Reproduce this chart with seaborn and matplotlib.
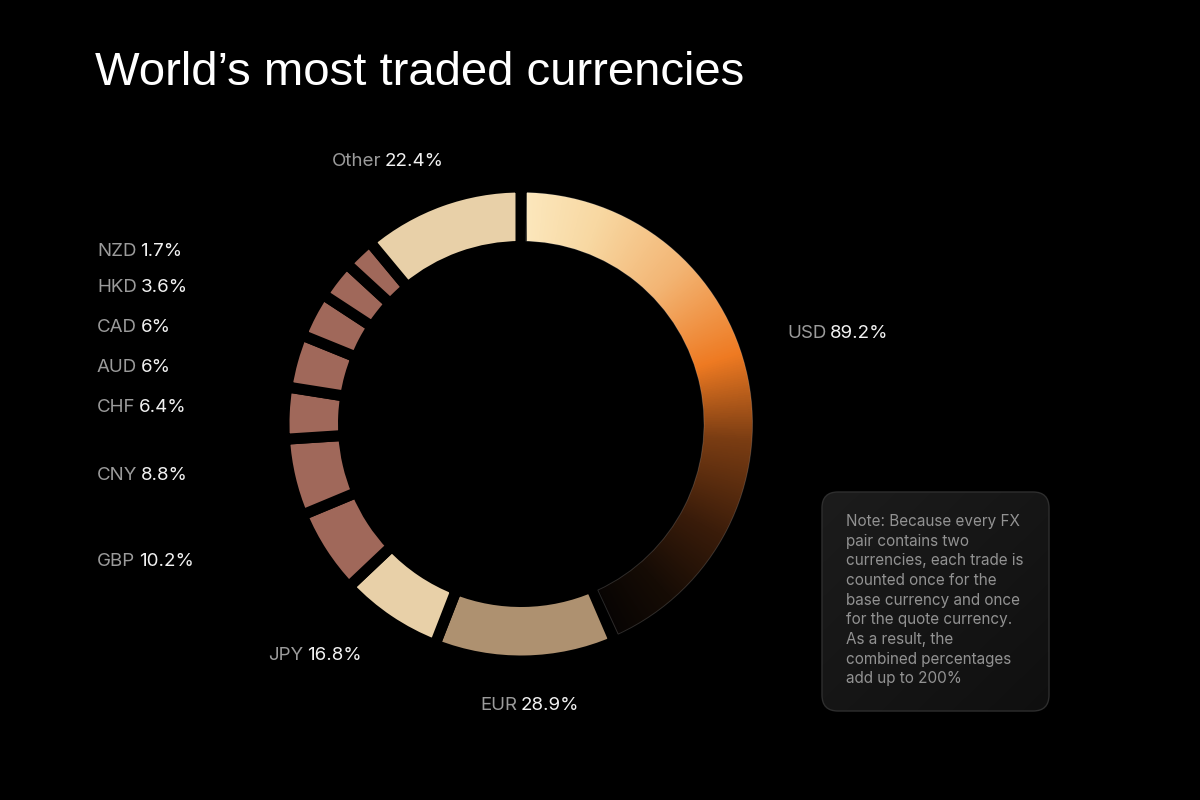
import numpy as np
import matplotlib.pyplot as plt
import seaborn as sns
from matplotlib.colors import LinearSegmentedColormap
from matplotlib.patches import FancyBboxPatch, Wedge

# data
currencies = ["USD", "EUR", "JPY", "GBP", "CNY", "CHF", "AUD", "CAD", "HKD", "NZD", "Other"]
shares = [89.2, 28.9, 16.8, 10.2, 8.8, 6.4, 6, 6, 3.6, 1.7, 22.4]
# arc sizes as drawn in the original chart (degrees), not strictly proportional
arc_deg = [156.7, 44.6, 25.3, 20.8, 18.9, 12.7, 13.1, 11.1, 9.4, 7.7, 39.7]
seg_colors = ["none", "#AE9170", "#E8D0A8", "#A0685A", "#A0685A", "#A0685A",
              "#A0685A", "#A0685A", "#A0685A", "#A0685A", "#E8D0A8"]
label_x = [787, 480, 268, 97, 97, 97, 97, 97, 97, 97, 332]
label_y = [333, 706, 656, 561, 475, 407, 367, 327, 287, 251, 162]

note = ("Note: Because every FX\npair contains two\ncurrencies, each trade is\n"
        "counted once for the\nbase currency and once\nfor the quote currency.\n"
        "As a result, the\ncombined percentages\nadd up to 200%")

sns.set_theme(style="dark")
plt.rcParams['font.family'] = ['Inter', 'DejaVu Sans']

fig = plt.figure(figsize=(12, 8), dpi=100, facecolor="black")

# overlay axes in pixel coordinates for texts and the note box
ov = fig.add_axes([0, 0, 1, 1])
ov.set_xlim(0, 1200)
ov.set_ylim(800, 0)
ov.axis("off")
ov.patch.set_alpha(0)

# donut
R = 237   # px for radius 1
cx, cy = 521, 424
gap_px = 11
gap = gap_px * 0.72
ring = 59.5 / R
ax = fig.add_axes([(cx - R) / 1200, (800 - cy - R) / 800, 2 * R / 1200, 2 * R / 800])
ax.patch.set_alpha(0)
wedges, _ = ax.pie(arc_deg, startangle=90, counterclock=False, radius=1,
                   colors=seg_colors,
                   wedgeprops=dict(width=ring, edgecolor="black", linewidth=gap))

usd_cmap = LinearSegmentedColormap.from_list("usd", [
    (0.0, "#FCE8BE"), (0.13, "#F8D8A2"), (0.29, "#F3B574"), (0.46, "#EE7A22"),
    (0.6, "#7B3D13"), (0.76, "#3A1C0A"), (0.89, "#160C05"), (1.0, "#070403")])
xs = np.linspace(-1, 1, 600)
gx, gy = np.meshgrid(xs, xs)
theta = np.degrees(np.arctan2(gx, gy)) % 360
frac = np.clip(theta / arc_deg[0], 0, 1)
im = ax.imshow(usd_cmap(frac), extent=(-1, 1, -1, 1), origin="lower",
               interpolation="bilinear", zorder=0.5)
im.set_clip_path(wedges[0])

# faint rim along the visible edge of the USD segment
usd = wedges[0]
half = gap_px / 2 / R
mid_r = usd.r - usd.width / 2
d_ang = np.degrees(half / mid_r)
ax.add_patch(Wedge(usd.center, usd.r - half, usd.theta1 + d_ang, usd.theta2 - d_ang,
                   width=usd.width - 2 * half, fc="none", ec=(1, 1, 1, 0.16), lw=0.7,
                   zorder=1.2))
ax.set_xlim(-1, 1)
ax.set_ylim(-1, 1)
ax.axis("off")

# title
ov.text(95, 85, "World\u2019s most traded currencies", fontsize=34, color="white",
        family=["Liberation Sans", "DejaVu Sans"], va="baseline", ha="left")

# labels
for name, val, x, y in zip(currencies, shares, label_x, label_y):
    t = ov.text(x, y, name, fontsize=13.5, color="#9B9B9B", va="center", ha="left")
    ov.annotate(f"{val:g}%", xy=(1, 0), xycoords=t, xytext=(2.5, 0),
                textcoords="offset points", fontsize=13.5, color="#F2F2F2",
                va="bottom", ha="left")

# note box
box = FancyBboxPatch((822, 492), 227, 219, boxstyle="round,pad=0,rounding_size=16",
                     fc="none", ec="#2E2E2E", lw=1, zorder=1)
ov.add_patch(box)
bx, by = np.meshgrid(np.linspace(0, 1, 100), np.linspace(0, 1, 100))
shade = 0.11 - 0.05 * (bx + by) / 2
grad = np.dstack([shade, shade, shade, np.ones_like(shade)])
bim = ov.imshow(grad, extent=(822, 1049, 711, 492), origin="upper", zorder=0.9,
                interpolation="bilinear")
bim.set_clip_path(box)
ov.set_xlim(0, 1200)
ov.set_ylim(800, 0)
ov.text(846, 514, note, fontsize=11, color="#929292", va="top", ha="left",
        linespacing=1.39, zorder=2)

fig.savefig("out.png", dpi=100, facecolor="black")
